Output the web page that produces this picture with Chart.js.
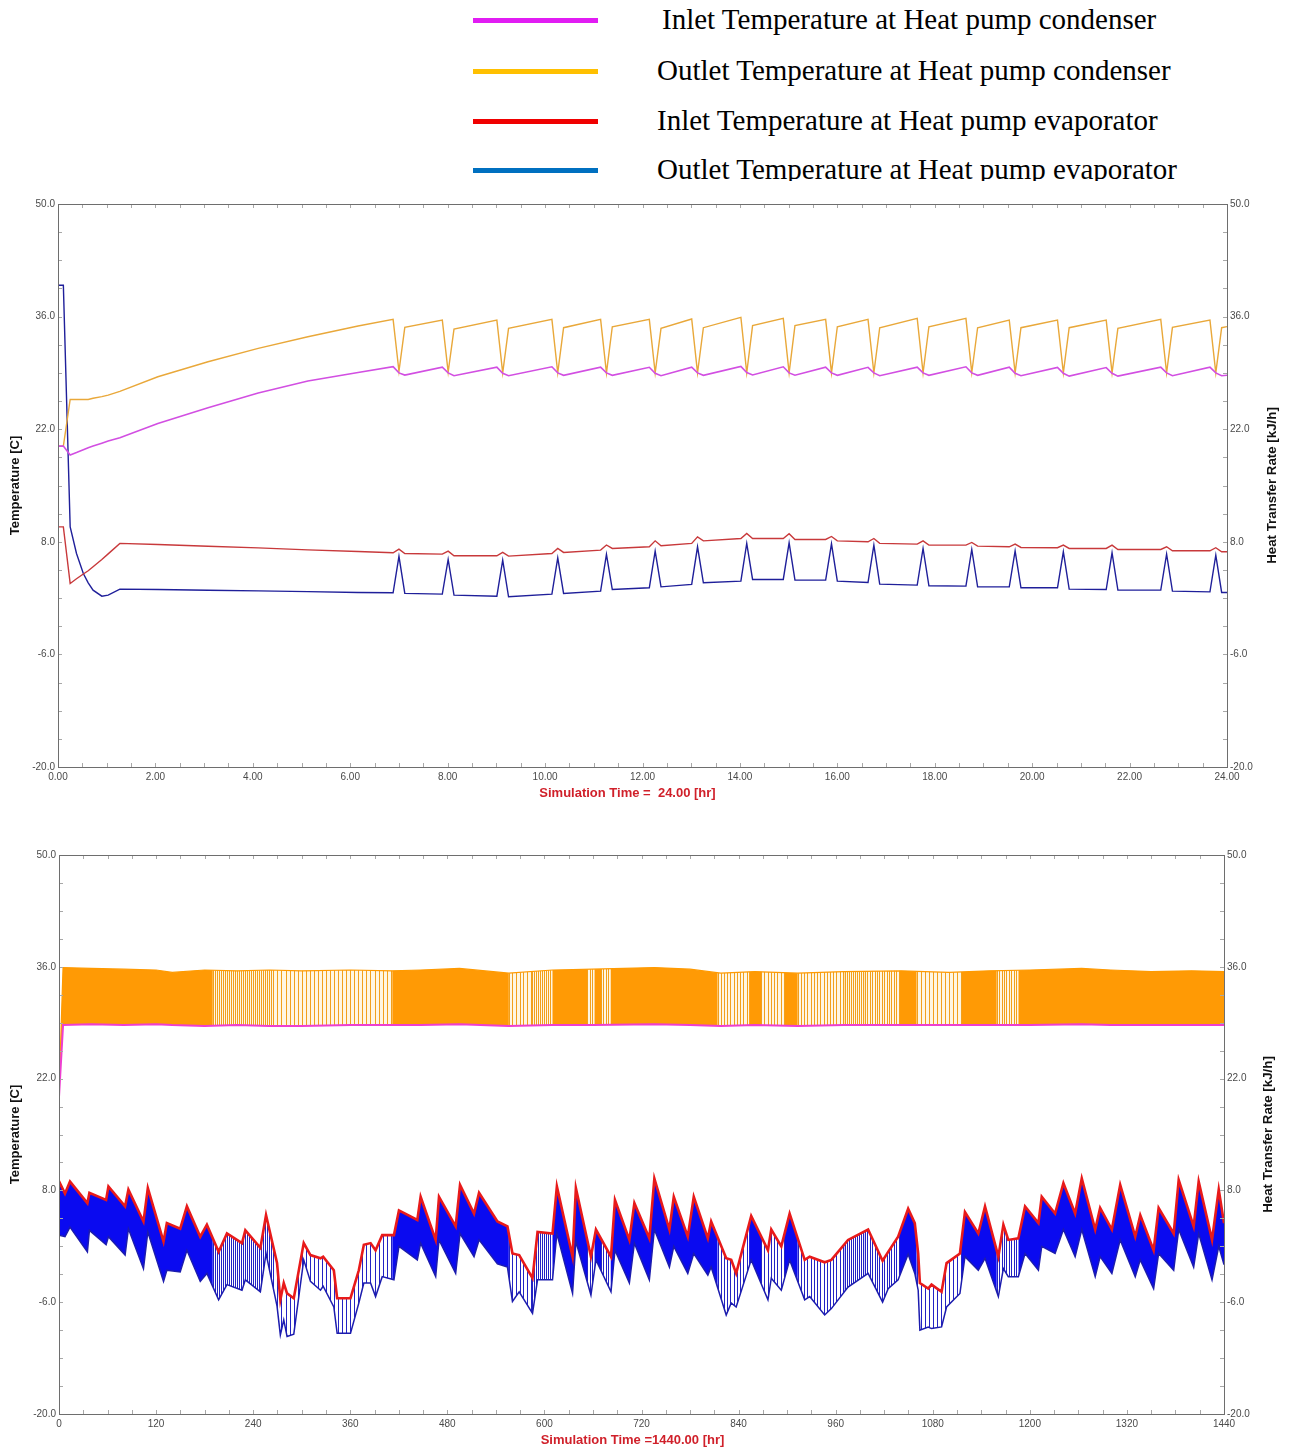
<!DOCTYPE html>
<html>
<head>
<meta charset="utf-8">
<title>Heat pump temperatures</title>
<script src="https://cdn.jsdelivr.net/npm/chart.js@4.4.0/dist/chart.umd.min.js"></script>
<style>
  body { margin: 0; width: 1290px; height: 1450px; background: #fff; position: relative; overflow: hidden; }
  #legend { position: absolute; left: 0; top: 0; width: 1290px; height: 181px; overflow: hidden;
            font-family: 'Liberation Serif', 'Times New Roman', serif; font-size: 29px; color: #000; }
  #legend .swatch { position: absolute; left: 473px; width: 125px; height: 5px; }
  #legend .label { position: absolute; white-space: nowrap; line-height: 34px; }
  #dayBox { position: absolute; left: 0; top: 190px; width: 1290px; height: 620px; }
  #periodBox { position: absolute; left: 0; top: 835px; width: 1290px; height: 615px; }
</style>
</head>
<body>
<div id="legend"></div>
<div id="dayBox"><canvas id="dayChart" width="1290" height="620"></canvas></div>
<div id="periodBox"><canvas id="periodChart" width="1290" height="615"></canvas></div>

<script>
// ---- series names and legend colours ----
const seriesNames = [
  'Inlet Temperature at Heat pump condenser',
  'Outlet Temperature at Heat pump condenser',
  'Inlet Temperature at Heat pump evaporator',
  'Outlet Temperature at Heat pump evaporator'
];
const legendColors = ['#e11cf3', '#ffc000', '#f00000', '#0070c0'];

// ---- axis ticks ----
const tempTicks = [-20, -6, 8, 22, 36, 50];
const dayTicks = [0, 2, 4, 6, 8, 10, 12, 14, 16, 18, 20, 22, 24];
const periodTicks = [0, 120, 240, 360, 480, 600, 720, 840, 960, 1080, 1200, 1320, 1440];

// ---- first day [hr] / [C] ----
const dayHours = [0, 0.11, 0.25, 0.38, 0.52, 0.62, 0.72, 0.9, 1.03, 1.27, 2.05, 3.08, 4.11, 5.13, 6.16,
  6.88, 7.00, 7.12, 7.89, 8.01, 8.13, 9.01, 9.13, 9.25, 10.14, 10.26, 10.38,
  11.14, 11.26, 11.38, 12.14, 12.26, 12.38, 13.01, 13.13, 13.25, 14.02, 14.14, 14.26,
  14.89, 15.01, 15.13, 15.76, 15.88, 16.00, 16.63, 16.75, 16.87, 17.64, 17.76, 17.88,
  18.64, 18.76, 18.88, 19.53, 19.65, 19.77, 20.52, 20.64, 20.76, 21.52, 21.64, 21.76,
  22.64, 22.76, 22.88, 23.65, 23.77, 23.89, 24.0];

const dayCondIn = [19.9, 19.9, 18.8, 19.1, 19.45, 19.7, 19.9, 20.25, 20.52, 20.95, 22.72, 24.66, 26.5, 28.0, 29.05,
  29.77, 29.0, 28.73, 29.72, 29.0, 28.65, 29.72, 28.95, 28.65, 29.76, 29.0, 28.7,
  29.72, 29.0, 28.7, 29.7, 28.95, 28.65, 29.72, 29.0, 28.7, 29.8, 29.05, 28.75,
  29.76, 29.0, 28.72, 29.72, 29.0, 28.7, 29.69, 29.0, 28.65, 29.72, 29.0, 28.7,
  29.76, 29.0, 28.7, 29.72, 28.95, 28.65, 29.69, 28.95, 28.6, 29.66, 28.95, 28.6,
  29.72, 29.0, 28.65, 29.72, 29.0, 28.65, 28.7];

const dayCondOut = [19.9, 19.9, 25.7, 25.7, 25.7, 25.7, 25.85, 26.05, 26.24, 26.7, 28.52, 30.39, 32.05, 33.5, 34.83,
  35.66, 29.2, 34.66, 35.57, 29.1, 34.45, 35.57, 29.0, 34.54, 35.66, 29.0, 34.62,
  35.66, 29.0, 34.74, 35.66, 29.0, 34.54, 35.70, 29.0, 34.62, 35.91, 29.0, 34.87,
  35.78, 29.0, 34.87, 35.66, 29.0, 34.74, 35.66, 29.0, 34.62, 35.78, 29.0, 34.74,
  35.78, 29.05, 34.62, 35.57, 29.0, 34.62, 35.57, 29.0, 34.62, 35.57, 29.0, 34.54,
  35.66, 29.0, 34.66, 35.57, 29.0, 34.62, 34.75];

const dayEvapIn = [9.86, 9.86, 2.82, 3.4, 4.0, 4.4, 4.9, 5.8, 6.5, 7.8, 7.66, 7.45, 7.25, 7.0, 6.8,
  6.63, 7.09, 6.55, 6.47, 6.84, 6.26, 6.26, 6.68, 6.22, 6.55, 7.17, 6.68,
  6.97, 7.6, 7.17, 7.38, 8.12, 7.5, 7.8, 8.62, 8.12, 8.41, 9.04, 8.41,
  8.41, 9.0, 8.29, 8.29, 8.66, 8.12, 8.0, 8.41, 7.8, 7.71, 8.12, 7.59,
  7.59, 7.92, 7.46, 7.38, 7.71, 7.3, 7.26, 7.59, 7.17, 7.17, 7.59, 7.05,
  7.05, 7.38, 6.88, 6.88, 7.26, 6.76, 6.76];

const dayEvapOut = [39.9, 39.9, 9.86, 6.55, 4.06, 2.9, 1.99, 1.24, 1.37, 2.11, 2.07, 1.98, 1.9, 1.8, 1.7,
  1.66, 6.2, 1.58, 1.49, 5.8, 1.37, 1.24, 5.72, 1.16, 1.49, 6.0, 1.58,
  1.87, 6.43, 2.07, 2.28, 6.84, 2.4, 2.7, 7.38, 2.9, 3.11, 7.8, 3.32,
  3.32, 7.87, 3.23, 3.23, 7.75, 3.11, 2.94, 7.59, 2.74, 2.61, 7.17, 2.53,
  2.49, 7.05, 2.4, 2.4, 6.88, 2.28, 2.28, 6.76, 2.11, 2.07, 6.63, 1.99,
  1.99, 6.47, 1.87, 1.78, 6.34, 1.7, 1.7];

// ---- 60 day run: envelopes of the cycling band [hr] / [C] ----
const condHours = [0, 5, 40, 80, 120, 140, 180, 220, 260, 300, 360, 412, 447, 495, 556, 610, 660,
  736, 780, 818, 860, 913, 970, 1041, 1100, 1150, 1200, 1264, 1300, 1350, 1400, 1440];
const condOutMax = [20.0, 35.9, 35.8, 35.7, 35.6, 35.3, 35.6, 35.5, 35.6, 35.5, 35.6, 35.5, 35.6, 35.8,
  35.2, 35.6, 35.7, 35.9, 35.7, 35.2, 35.4, 35.2, 35.4, 35.5, 35.3, 35.5, 35.6, 35.8, 35.6, 35.4, 35.5, 35.4];
const condInMin = [19.7, 28.7, 28.8, 28.7, 28.8, 28.7, 28.6, 28.7, 28.6, 28.6, 28.7, 28.7, 28.7, 28.8,
  28.6, 28.7, 28.7, 28.8, 28.7, 28.6, 28.7, 28.6, 28.7, 28.7, 28.7, 28.7, 28.7, 28.8, 28.7, 28.7, 28.7, 28.7];

const evapHours = [0, 1.2, 7.4, 13.6, 35.1, 37.6, 58.2, 61.1, 81.7, 85.8, 104.4, 109.8, 129.2, 133.3,
  149.8, 158.1, 174.6, 182.8, 197.3, 207.6, 226.2, 230.3, 248.9, 255.9, 269.5, 273.6, 277.8, 281.9,
  290.2, 302.5, 310.8, 323.2, 326.5, 339.7, 343.8, 360.3, 370.6, 376.8, 385.1, 391.3, 399.5, 414,
  420.2, 442.9, 447, 465.6, 469.7, 490.3, 495.7, 513, 519.2, 541.9, 554.3, 560.5, 568.8, 585.3,
  591.5, 610, 615.4, 634.8, 638.9, 657.5, 663.7, 682.3, 687.2, 705, 711.2, 729.7, 735.9, 754.5,
  759.9, 777.2, 784.6, 802, 806.1, 824.7, 830.9, 837, 855.6, 876.3, 880.4, 892.8, 903.1, 921.7,
  927.9, 946.4, 954.7, 975.3, 1000.1, 1018, 1024.9, 1037.2, 1049.6, 1057.8, 1062, 1064.1, 1074.4,
  1078.5, 1090.9, 1097.1, 1113.6, 1119.8, 1136.3, 1144.6, 1161.1, 1167.3, 1173.4, 1185.8, 1194.1,
  1210.6, 1214.7, 1231.2, 1241.5, 1256, 1264.2, 1280.8, 1286.9, 1301.4, 1311.7, 1330.3, 1336.5,
  1353, 1359.2, 1377.8, 1384, 1402.5, 1408.7, 1425.2, 1433.5, 1440];
const evapInMax = [8.6, 8.9, 7.6, 9.1, 6.4, 7.7, 6.8, 8.5, 6.0, 8.1, 4.1, 8.3, 1.6, 3.9,
  3.2, 6.0, 2.2, 3.7, 0.3, 2.6, 1.4, 3.0, 0.8, 4.9, -1.1, -5.7, -3.6, -4.9,
  -5.5, 1.4, -0.1, -0.5, -0.3, -2.0, -5.5, -5.5, -2.0, 1.2, 1.4, 0.5, 2.4, 2.4,
  5.5, 4.3, 7.2, 1.8, 7.2, 3.5, 8.7, 5.1, 7.7, 4.1, 3.5, 0.1, -0.1, -3.0,
  2.8, 2.6, 8.5, -0.3, 8.3, -0.3, 3.1, -0.3, 6.8, 1.8, 6.4, 2.0, 9.5, 3.1,
  7.2, 2.2, 7.2, 2.0, 4.1, -0.5, -0.7, -2.4, 4.8, 0.5, 3.1, 1.0, 5.1, -0.7,
  -0.3, -1.0, -0.7, 1.8, 3.1, -0.8, 0.3, 2.2, 5.7, 3.9, 0.1, -3.6, -4.3,
  -3.8, -4.7, -1.1, 0.1, 5.3, 2.6, 6.0, -0.3, 3.7, 1.8, 2.0, 6.0,
  3.9, 7.2, 5.1, 8.9, 5.1, 9.5, 3.1, 5.8, 3.1, 8.7, 2.2, 4.9,
  0.5, 5.8, 2.6, 9.3, 3.5, 9.1, 1.8, 8.1, 3.9];
const evapOutMin = [2.4, 2.4, 2.2, 3.4, 0.3, 3.0, 1.2, 2.2, -0.1, 3.2, -1.8, 2.8, -3.4, -2.0,
  -2.2, 0.5, -3.4, -2.4, -5.7, -3.8, -4.5, -3.2, -4.7, 0.1, -6.5, -10.1, -8.2, -10.3,
  -10.0, -0.7, -3.4, -4.5, -4.0, -6.6, -9.9, -9.9, -6.1, -3.6, -3.6, -5.3, -2.8, -3.2,
  1.0, -0.7, 1.4, -2.8, 1.8, -2.4, 2.6, -0.3, 1.8, -1.2, -1.6, -5.9, -4.7, -7.4,
  -3.2, -3.2, 2.6, -4.9, 1.6, -5.1, -0.7, -4.7, 0.5, -3.6, 1.4, -3.2, 3.1, -1.6,
  1.0, -2.4, 0.1, -2.6, -1.6, -7.6, -6.1, -6.6, -0.7, -5.7, -3.0, -4.5, -0.7, -5.7,
  -5.3, -7.6, -6.8, -4.1, -2.4, -6.0, -4.3, -3.2, 0.0, -2.4, -4.5, -9.5, -9.1,
  -9.3, -9.1, -6.6, -4.9, -0.3, -2.0, -0.5, -5.3, -1.8, -2.8, -2.8, 0.1,
  -2.0, 1.0, 0.1, 3.1, -0.3, 3.1, -2.8, -0.3, -2.4, 1.8, -2.8, -0.7,
  -4.3, 0.1, -2.0, 3.1, -1.6, 2.6, -3.2, 1.0, -1.3];

// stretches where the heat pump cycles slowly: [from hr, to hr, hours per cycle]
const slowCycleSpans = [
  [190, 265, 2.5], [265, 412, 5], [556, 585, 4.5], [585, 610, 2.5], [653, 662, 3], [670, 682, 3],
  [814, 853, 4], [868, 897, 4], [913, 971, 4], [971, 996, 2.5], [996, 1039, 3], [1060, 1116, 5],
  [1159, 1186, 3]
];

// ---- layout ----
const legendRowY = [20, 71, 121, 170];
const legendTextX = [662, 657, 657, 657];
const sansFont = "'Liberation Sans', Arial, sans-serif";

function buildLegend() {
  var box = document.getElementById('legend');
  seriesNames.forEach(function (name, i) {
    var sw = document.createElement('div');
    sw.className = 'swatch';
    sw.style.top = (legendRowY[i] - 2) + 'px';
    sw.style.background = legendColors[i];
    box.appendChild(sw);

    var tx = document.createElement('div');
    tx.className = 'label';
    tx.style.left = legendTextX[i] + 'px';
    tx.style.top = (legendRowY[i] - 18) + 'px';
    tx.textContent = name;
    box.appendChild(tx);
  });
}

function toPoints(xs, ys) {
  return xs.map(function (x, i) { return { x: x, y: ys[i] }; });
}

// Fill for the cycling band: solid where cycling is fast, thin stripes where it is slow
function bandFill(solid, stripe, stripeBack) {
  var cache = null;
  return function (context) {
    var chart = context.chart;
    var area = chart.chartArea;
    if (!area || !chart.scales.x) return solid;
    var key = area.left + ',' + area.right + ',' + chart.height;
    if (cache && cache.key === key) return cache.pattern;

    var xs = chart.scales.x;
    var off = document.createElement('canvas');
    off.width = chart.width;
    off.height = chart.height;
    var g = off.getContext('2d');
    g.fillStyle = solid;
    g.fillRect(0, 0, off.width, off.height);
    slowCycleSpans.forEach(function (span) {
      var x0 = xs.getPixelForValue(span[0]);
      var x1 = xs.getPixelForValue(span[1]);
      g.fillStyle = stripeBack;
      g.fillRect(x0, 0, x1 - x0, off.height);
      g.fillStyle = stripe;
      for (var h = span[0]; h < span[1]; h += span[2]) {
        g.fillRect(Math.round(xs.getPixelForValue(h)), 0, 1, off.height);
      }
    });
    cache = { key: key, pattern: chart.ctx.createPattern(off, 'no-repeat') };
    return cache.pattern;
  };
}

// Frame, small inner tick marks, the time title and the right hand axis title
const plotFrame = {
  id: 'plotFrame',
  afterDatasetsDraw: function (chart, args, opts) {
    var ctx = chart.ctx, a = chart.chartArea;
    var xs = chart.scales.x, ys = chart.scales.y;
    ctx.save();
    ctx.lineWidth = 1;
    ctx.strokeStyle = '#a8a8a8';
    ctx.beginPath();
    for (var v = xs.min; v <= xs.max + 1e-9; v += opts.xStep) {
      var px = Math.round(xs.getPixelForValue(v)) + 0.5;
      ctx.moveTo(px, a.bottom); ctx.lineTo(px, a.bottom - 4);
      ctx.moveTo(px, a.top); ctx.lineTo(px, a.top + 4);
    }
    for (var t = ys.min; t <= ys.max + 1e-9; t += opts.yStep) {
      var py = Math.round(ys.getPixelForValue(t)) + 0.5;
      ctx.moveTo(a.left, py); ctx.lineTo(a.left + 4, py);
      ctx.moveTo(a.right, py); ctx.lineTo(a.right - 4, py);
    }
    ctx.stroke();

    ctx.strokeStyle = '#6e6e6e';
    ctx.strokeRect(Math.round(a.left) + 0.5, Math.round(a.top) + 0.5,
      Math.round(a.right - a.left), Math.round(a.bottom - a.top));

    // simulation time title under the x axis
    ctx.font = 'bold 13px ' + sansFont;
    ctx.fillStyle = '#d0202a';
    ctx.textAlign = 'center';
    ctx.textBaseline = 'middle';
    ctx.fillText(opts.timeTitle, (a.left + a.right) / 2 + opts.timeShift, a.bottom + 26);

    ctx.translate(a.right + opts.titleGap, (a.top + a.bottom) / 2);
    ctx.rotate(-Math.PI / 2);
    ctx.font = 'bold 13.3px ' + sansFont;
    ctx.fillStyle = '#111';
    ctx.fillText(opts.title, 0, 0);
    ctx.restore();
  }
};

function makeScales(cfg) {
  var tickFont = { family: sansFont, size: 10 };
  return {
    x: {
      type: 'linear', min: cfg.xTicks[0], max: cfg.xTicks[cfg.xTicks.length - 1],
      afterBuildTicks: function (s) { s.ticks = cfg.xTicks.map(function (v) { return { value: v }; }); },
      afterFit: function (s) { s.height = cfg.xHeight; },
      grid: { display: false, drawTicks: false },
      border: { display: false },
      ticks: {
        autoSkip: false, maxRotation: 0, padding: 4, color: '#4a4a4a', font: tickFont,
        callback: function (v) { return Number(v).toFixed(cfg.xDigits); }
      }
    },
    y: {
      position: 'left', min: -20, max: 50,
      afterBuildTicks: function (s) { s.ticks = tempTicks.map(function (v) { return { value: v }; }); },
      afterFit: function (s) { s.width = cfg.leftWidth; },
      grid: { display: false, drawTicks: false },
      border: { display: false },
      ticks: { padding: 3, color: '#4a4a4a', font: tickFont, callback: function (v) { return Number(v).toFixed(1); } },
      title: {
        display: true, text: 'Temperature [C]', color: '#111',
        font: { family: sansFont, size: 13, weight: 'bold' },
        padding: { top: 8, bottom: 0 }
      }
    },
    y2: {
      position: 'right', min: -20, max: 50,
      afterBuildTicks: function (s) { s.ticks = tempTicks.map(function (v) { return { value: v }; }); },
      afterFit: function (s) { s.width = cfg.rightWidth; },
      grid: { display: false, drawTicks: false },
      border: { display: false },
      ticks: { padding: 3, color: '#4a4a4a', font: tickFont, callback: function (v) { return Number(v).toFixed(1); } }
    }
  };
}

function lineSet(label, data, color, width, extra) {
  var ds = {
    label: label, data: data, borderColor: color, borderWidth: width,
    pointRadius: 0, pointHoverRadius: 0, pointBackgroundColor: color,
    tension: 0, fill: false, yAxisID: 'y'
  };
  return Object.assign(ds, extra || {});
}

function drawDayChart() {
  var ctx = document.getElementById('dayChart').getContext('2d');
  new Chart(ctx, {
    type: 'line',
    data: {
      datasets: [
        lineSet(seriesNames[0], toPoints(dayHours, dayCondIn), '#d24fe2', 1.6),
        lineSet(seriesNames[1], toPoints(dayHours, dayCondOut), '#e9a83a', 1.4),
        lineSet(seriesNames[2], toPoints(dayHours, dayEvapIn), '#c8393b', 1.4),
        lineSet(seriesNames[3], toPoints(dayHours, dayEvapOut), '#1f1f9a', 1.4)
      ]
    },
    options: {
      responsive: false, animation: false, events: [],
      layout: { padding: { top: 14, left: 0, right: 0, bottom: 0 } },
      scales: makeScales({ xTicks: dayTicks, xDigits: 2, xHeight: 43, leftWidth: 58, rightWidth: 63 }),
      plugins: {
        legend: { display: false }, tooltip: { enabled: false },
        plotFrame: {
          xStep: 0.5, yStep: 3.5, titleGap: 45, title: 'Heat Transfer Rate [kJ/h]',
          timeTitle: 'Simulation Time =  24.00 [hr]', timeShift: -15
        }
      }
    },
    plugins: [plotFrame]
  });
}

function drawPeriodChart() {
  var ctx = document.getElementById('periodChart').getContext('2d');
  var chart = new Chart(ctx, {
    type: 'line',
    data: {
      datasets: [
        lineSet(seriesNames[1], toPoints(condHours, condOutMax), '#ff9a00', 1.2, {
          order: 3, fill: '+1', backgroundColor: bandFill('#ff9a05', '#f2a01c', '#fff6e2')
        }),
        lineSet(seriesNames[0], toPoints(condHours, condInMin), '#ee3fd0', 2, { order: 2 }),
        lineSet(seriesNames[2], toPoints(evapHours, evapInMax), '#e81a1a', 2.6, {
          order: 1, fill: '+1', backgroundColor: bandFill('#0a0af0', '#2323c4', '#ffffff')
        }),
        lineSet(seriesNames[3], toPoints(evapHours, evapOutMin), '#1c1cae', 1.5, { order: 0 })
      ]
    },
    options: {
      responsive: false, animation: false, events: [],
      layout: { padding: { top: 20, left: 0, right: 0, bottom: 0 } },
      scales: makeScales({ xTicks: periodTicks, xDigits: 0, xHeight: 36, leftWidth: 59, rightWidth: 66 }),
      plugins: {
        legend: { display: false }, tooltip: { enabled: false },
        plotFrame: {
          xStep: 30, yStep: 3.5, titleGap: 44, title: 'Heat Transfer Rate [kJ/h]',
          timeTitle: 'Simulation Time =1440.00 [hr]', timeShift: -9
        }
      }
    },
    plugins: [plotFrame]
  });
  // second pass so the band fill sees the finished layout
  chart.update('none');
}

window.addEventListener('load', function () {
  buildLegend();
  drawDayChart();
  drawPeriodChart();
});
</script>
</body>
</html>
